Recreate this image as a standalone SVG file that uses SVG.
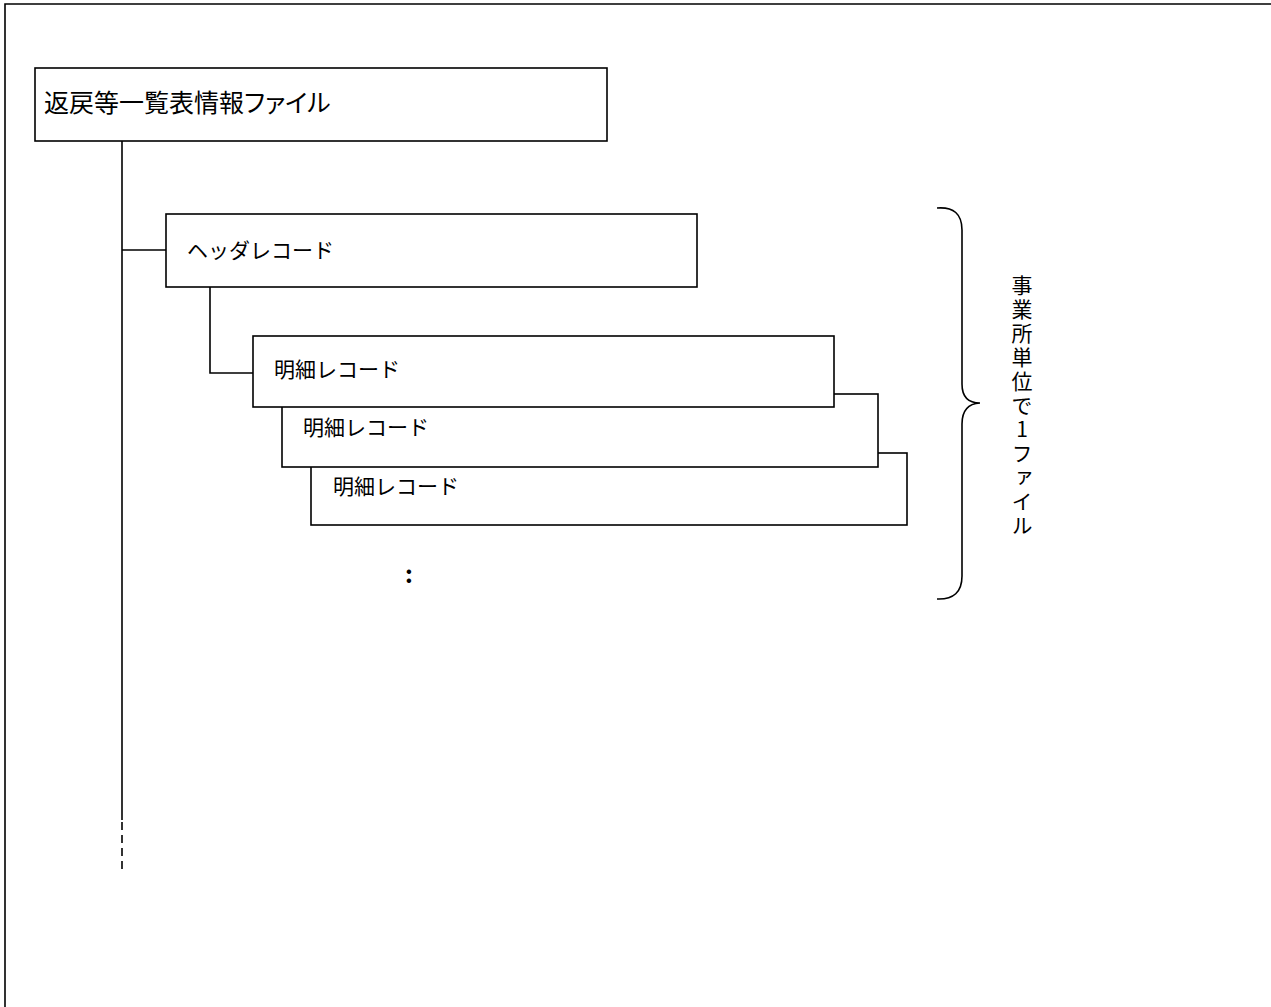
<svg xmlns="http://www.w3.org/2000/svg" width="1271" height="1007" viewBox="0 0 1271 1007">
<style>
  .box { fill: #fff; stroke: #000; stroke-width: 1.6; }
  .ln { fill: none; stroke: #000; stroke-width: 1.6; }
  .t { font-family: "Noto Sans CJK JP", "Liberation Sans", sans-serif; fill: #000; }
  .p { font-feature-settings: "palt"; }
</style>
<rect x="0" y="0" width="1271" height="1007" fill="#fff"/>
<g id="frame">
  <path class="ln" d="M1271,4 H5 V1007" stroke-width="2"/>
</g>
<g id="connectors">
  <path class="ln" d="M122,141 V820"/>
  <path class="ln" d="M122,822 V874" stroke-dasharray="8,5"/>
  <path class="ln" d="M122,250 H166"/>
  <path class="ln" d="M210,287 V373 H253"/>
</g>
<g id="file">
  <rect class="box" x="35" y="68" width="572" height="73" stroke-width="2"/>
  <text class="t p" x="44" y="112" font-size="25">返戻等一覧表情報ファイル</text>
</g>
<g id="header">
  <rect class="box" x="166" y="214" width="531" height="73"/>
  <text class="t" x="187" y="258" font-size="21">ヘッダレコード</text>
</g>
<g id="detail3">
  <rect class="box" x="311" y="453" width="596" height="72"/>
  <text class="t" x="333" y="494" font-size="21">明細レコード</text>
</g>
<g id="detail2">
  <rect class="box" x="282" y="394" width="596" height="73"/>
  <text class="t" x="303" y="435" font-size="21">明細レコード</text>
</g>
<g id="detail1">
  <rect class="box" x="253" y="336" width="581" height="71" stroke-width="2"/>
  <text class="t" x="274" y="377" font-size="21">明細レコード</text>
</g>
<g id="ellipsis">
  <text class="t" x="409" y="583" font-size="24" font-weight="bold" text-anchor="middle">:</text>
</g>
<g id="brace">
  <path class="ln" d="M937,208 Q962,206 962,230 L962,384 Q962,403 980,403 Q962,404 962,424 L962,576 Q962,600 937,599"/>
</g>
<g id="label">
  <text class="t" x="1022" y="275" font-size="21" style="writing-mode: vertical-rl; text-orientation: upright;" letter-spacing="3">事業所単位で1ファイル</text>
</g>
</svg>
